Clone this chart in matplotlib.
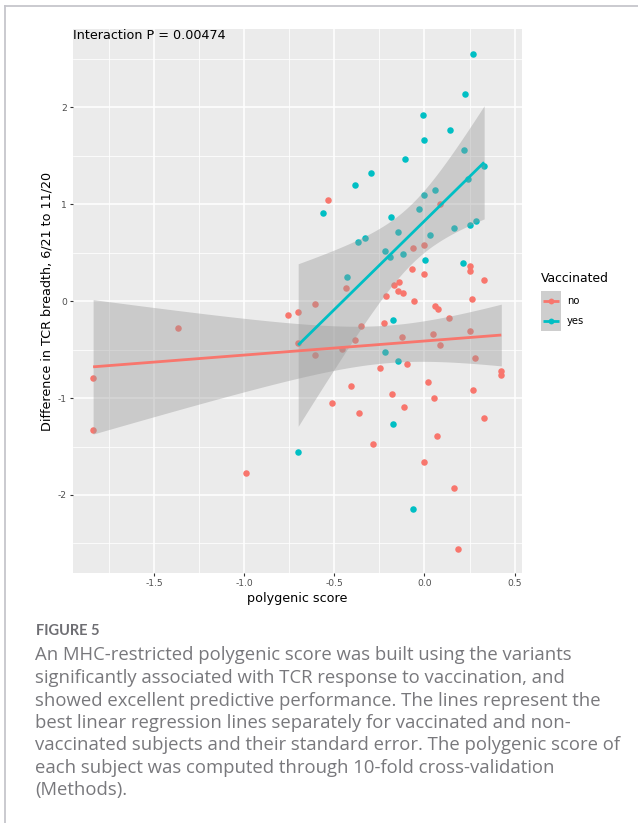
import numpy as np
import matplotlib
matplotlib.use("Agg")
import matplotlib.pyplot as plt
from matplotlib.lines import Line2D
from matplotlib.patches import Rectangle

# data: polygenic score vs change in TCR breadth
no_x = [-0.532, 0.085, -0.063, -0.002, 0.252, 0.254, -0.067, -0.002, 0.331, -0.433,
        -0.143, -0.170, -0.146, -0.117, -0.213, -0.059, 0.263, -0.607, -0.759, -0.700,
        0.061, 0.074, 0.135, -0.222, -0.350, -0.124, 0.048, 0.252, -0.387, -0.700,
        -0.457, 0.085, -0.607, 0.279, -0.096, -0.246, 0.426, 0.426, -0.406, 0.017,
        -0.178, 0.268, 0.054, -0.515, -0.361, -0.111, 0.331, 0.072, -0.283, -0.987,
        -0.002, 0.165, 0.187, -1.365, -1.837, -1.837]
no_y = [1.044, 1.003, 0.550, 0.584, 0.367, 0.309, 0.336, 0.278, 0.223, 0.137,
        0.196, 0.165, 0.109, 0.082, 0.052, 0.000, 0.024, -0.028, -0.141, -0.113,
        -0.055, -0.083, -0.169, -0.224, -0.255, -0.368, -0.340, -0.309, -0.399, -0.430,
        -0.492, -0.457, -0.553, -0.585, -0.653, -0.688, -0.725, -0.760, -0.873, -0.835,
        -0.956, -0.914, -1.000, -1.050, -1.150, -1.097, -1.206, -1.396, -1.471, -1.777,
        -1.657, -1.928, -2.553, -0.282, -0.794, -1.327]

yes_x = [0.270, 0.224, -0.006, 0.139, -0.002, 0.217, -0.107, -0.298, -0.385, -0.561,
         -0.187, -0.002, 0.056, -0.028, 0.243, 0.331, 0.285, 0.250, 0.165, -0.146,
         0.028, -0.328, -0.370, -0.220, -0.193, -0.118, 0.004, 0.211, -0.432, -0.176,
         -0.220, -0.148, -0.174, -0.700, -0.061]
yes_y = [2.550, 2.140, 1.920, 1.770, 1.660, 1.556, 1.470, 1.320, 1.200, 0.914,
         0.872, 1.093, 1.147, 0.955, 1.258, 1.395, 0.831, 0.790, 0.756, 0.718,
         0.687, 0.649, 0.615, 0.519, 0.453, 0.488, 0.426, 0.398, 0.250, -0.196,
         -0.523, -0.619, -1.265, -1.560, -2.141]

groups = ["no", "yes"]
group_colors = {"no": "#F8766D", "yes": "#00BFC4"}
# two-sided 95% t quantiles for n-2 degrees of freedom (n = 56 and 35)
t_crit = {"no": 2.005, "yes": 2.035}

annotation = "Interaction P = 0.00474"
x_title = "polygenic score"
y_title = "Difference in TCR breadth, 6/21 to 11/20"
legend_title = "Vaccinated"

caption_head = "FIGURE 5"
caption_lines = [
    "An MHC-restricted polygenic score was built using the variants",
    "significantly associated with TCR response to vaccination, and",
    "showed excellent predictive performance. The lines represent the",
    "best linear regression lines separately for vaccinated and non-",
    "vaccinated subjects and their standard error. The polygenic score of",
    "each subject was computed through 10-fold cross-validation",
    "(Methods).",
]


def fit_band(x, y, t, n_grid=80):
    '''
    Least squares line with the 95% confidence band of the mean (like geom_smooth(method="lm")).
    '''
    x = np.asarray(x)
    y = np.asarray(y)
    n = len(x)
    slope, intercept = np.polyfit(x, y, 1)
    xs = np.linspace(x.min(), x.max(), n_grid)
    fit = intercept + slope * xs
    resid = y - (intercept + slope * x)
    s = np.sqrt(np.sum(resid ** 2) / (n - 2))
    se = s * np.sqrt(1.0 / n + (xs - x.mean()) ** 2 / np.sum((x - x.mean()) ** 2))
    return xs, fit, fit - t * se, fit + t * se


W, H = 638, 823
fig = plt.figure(figsize=(W / 100, H / 100), dpi=100)
fig.patch.set_facecolor("white")


def px(x0, y0, w, h):
    # pixel box (from top-left) -> figure fraction rect
    return [x0 / W, 1 - (y0 + h) / H, w / W, h / H]


ax = fig.add_axes(px(72.7, 29.3, 449, 544))
ax.set_facecolor("#EBEBEB")
for s in ax.spines.values():
    s.set_visible(False)

data = {"no": (no_x, no_y), "yes": (yes_x, yes_y)}

# points first, then ribbons on top (ggplot layer order)
for g in groups:
    ax.scatter(data[g][0], data[g][1], s=22, color=group_colors[g], linewidths=0, zorder=3)

for g in groups:
    xs, fit, lo, hi = fit_band(data[g][0], data[g][1], t_crit[g])
    ax.fill_between(xs, lo, hi, color="#999999", alpha=0.4, linewidth=0, zorder=4)
    ax.plot(xs, fit, color=group_colors[g], linewidth=2.0, zorder=5, solid_capstyle="butt")

# ggplot-like 5% expansion
all_x = np.array(no_x + yes_x)
all_y = np.array(no_y + yes_y)
xr = all_x.max() - all_x.min()
yr = all_y.max() - all_y.min()
ax.set_xlim(all_x.min() - 0.05 * xr, all_x.max() + 0.05 * xr)
ax.set_ylim(all_y.min() - 0.05 * yr, all_y.max() + 0.05 * yr)

ax.set_xticks([-1.5, -1.0, -0.5, 0.0, 0.5])
ax.set_xticklabels(["-1.5", "-1.0", "-0.5", "0.0", "0.5"])
ax.set_xticks([-1.75, -1.25, -0.75, -0.25, 0.25], minor=True)
ax.set_yticks([-2, -1, 0, 1, 2])
ax.set_yticklabels(["-2", "-1", "0", "1", "2"])
ax.set_yticks([-2.5, -1.5, -0.5, 0.5, 1.5, 2.5], minor=True)
ax.grid(which="major", color="white", linewidth=1.1, zorder=0)
ax.grid(which="minor", color="white", linewidth=0.55, zorder=0)
ax.set_axisbelow(True)
ax.tick_params(which="major", length=2.2, width=0.8, color="#333333",
               labelcolor="#4D4D4D", labelsize=6.6, pad=2)
ax.tick_params(which="minor", length=0)

ax.set_xlabel(x_title, fontsize=9.2, color="black")
ax.xaxis.set_label_coords(0.5, -0.034)
ax.set_ylabel(y_title, fontsize=9.2, color="black", va="center")
ax.yaxis.set_label_coords(-0.058, 0.5)

ax.text(0.0, 1.0, annotation, transform=ax.transAxes, ha="left", va="top",
        fontsize=9.2, color="black", zorder=6)

# legend drawn by hand so the keys get the grey ribbon fill
fig.text(540.7 / W, 1 - 278.3 / H, legend_title, fontsize=8.9, ha="left", va="center")
lax = fig.add_axes(px(540.7, 290.7, 20, 40))
lax.set_xlim(0, 1)
lax.set_ylim(0, 2)
lax.axis("off")
for i, g in enumerate(groups):
    yc = 1.5 - i
    lax.add_patch(Rectangle((0, yc - 0.5), 1, 1, facecolor="#CECECE", edgecolor="none"))
    lax.plot([0.1, 0.9], [yc, yc], color=group_colors[g], linewidth=2.0, solid_capstyle="butt")
    lax.plot([0.5], [yc], "o", color=group_colors[g], markersize=4.2, markeredgewidth=0)
    fig.text(566.7 / W, 1 - (301.3 + 20 * i) / H, g, fontsize=7.2, ha="left", va="center")

# caption block
fig.text(36 / W, 1 - 631 / H, caption_head, fontsize=10.5, fontweight="bold",
         color="#6E6E73", family="Lato", ha="left", va="center")
for i, line in enumerate(caption_lines):
    fig.text(35 / W, 1 - (655.5 + 22.5 * i) / H, line, fontsize=13.3, color="#78787C",
             family="Open Sans", ha="left", va="center")

# card border on the left and top
fig.add_artist(Line2D([4.6 / W, 4.6 / W], [0, 1 - 5.7 / H], transform=fig.transFigure,
                      color="#C6C6CC", linewidth=1.3))
fig.add_artist(Line2D([4.6 / W, 1], [1 - 5.7 / H, 1 - 5.7 / H], transform=fig.transFigure,
                      color="#C6C6CC", linewidth=1.3))

fig.savefig("out.png", dpi=100)
